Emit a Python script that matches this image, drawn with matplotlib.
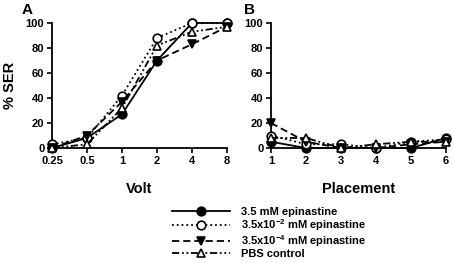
import matplotlib
matplotlib.use("Agg")
import matplotlib.pyplot as plt

plt.rcParams['font.family'] = ['Liberation Sans', 'DejaVu Sans']
plt.rcParams['font.weight'] = 'bold'
plt.rcParams['mathtext.fontset'] = 'custom'
plt.rcParams['mathtext.rm'] = 'Liberation Sans:bold'
plt.rcParams['mathtext.bf'] = 'Liberation Sans:bold'
plt.rcParams['mathtext.default'] = 'bf'

# ---- data ----
volt = [0.25, 0.5, 1, 2, 4, 8]
volt_labels = ["0.25", "0.5", "1", "2", "4", "8"]
placement = [1, 2, 3, 4, 5, 6]

series_names = ["3.5 mM epinastine",
                "3.5x10$^{-2}$ mM epinastine",
                "3.5x10$^{-4}$ mM epinastine",
                "PBS control"]

a_high = [0, 8, 27, 70, 100, 100]
a_mid = [3, 8, 42, 88, 100, 100]
a_low = [0, 10, 37, 70, 83, 97]
a_pbs = [0, 3, 32, 82, 93, 97]

b_high = [5, 0, 0, 0, 0, 8]
b_mid = [10, 3, 3, 0, 5, 7]
b_low = [20, 5, 0, 0, 3, 5]
b_pbs = [8, 8, 0, 3, 5, 5]

yticks = [0, 20, 40, 60, 80, 100]

styles = [
    dict(linestyle='-', marker='o', mfc='black', mec='black'),
    dict(linestyle=':', marker='o', mfc='white', mec='black'),
    dict(linestyle=(0, (4, 2.2)), marker='v', mfc='black', mec='black'),
    dict(linestyle=(0, (4, 1.5, 1, 1.5, 1, 1.5)), marker='^', mfc='white', mec='black'),
]

fig = plt.figure(figsize=(4.54, 2.63), dpi=100)
W, H = 454, 263
axA = fig.add_axes([52 / W, (H - 148) / H, 175 / W, 125 / H])
axB = fig.add_axes([271 / W, (H - 148) / H, 175 / W, 125 / H])

TICK_FS = 8
LABEL_FS = 10.5

def style_axes(ax):
    for s in ['top', 'right']:
        ax.spines[s].set_visible(False)
    for s in ['left', 'bottom']:
        ax.spines[s].set_linewidth(1.3)
    ax.tick_params(direction='out', length=3.5, width=1.2, labelsize=TICK_FS, pad=2)
    ax.set_ylim(0, 100)
    ax.set_yticks(yticks)
    for lab in ax.get_xticklabels() + ax.get_yticklabels():
        lab.set_fontweight('bold')

handles = []
for vals, st in zip([a_high, a_mid, a_low, a_pbs], styles):
    h, = axA.plot(volt, vals, color='black', lw=1.3, ms=6.2, mew=1.2,
                  clip_on=False, zorder=3, **st)
    handles.append(h)
axA.set_xscale('log', base=2)
axA.set_xlim(0.25, 8)
axA.set_xticks(volt)
axA.set_xticklabels(volt_labels)
axA.minorticks_off()
style_axes(axA)
axA.set_xlabel("Volt", fontsize=LABEL_FS, fontweight='bold', labelpad=12)
axA.set_ylabel("% SER", fontsize=LABEL_FS, fontweight='bold', labelpad=6)

for vals, st in zip([b_high, b_mid, b_low, b_pbs], styles):
    axB.plot(placement, vals, color='black', lw=1.3, ms=6.2, mew=1.2,
             clip_on=False, zorder=3, **st)
axB.set_xlim(1, 6)
axB.set_xticks(placement)
style_axes(axB)
axB.set_xlabel("Placement", fontsize=LABEL_FS, fontweight='bold', labelpad=12)

fig.text(27 / W, 1 - 10 / H, "A", fontsize=11, fontweight='bold', ha='center', va='center')
fig.text(250 / W, 1 - 10 / H, "B", fontsize=11, fontweight='bold', ha='center', va='center')

leg = fig.legend(handles, series_names, loc='upper left',
                 bbox_to_anchor=(172 / W, 1 - 207 / H), frameon=False,
                 handlelength=5.2, handletextpad=1.0,
                 labelspacing=0.0, borderpad=0, borderaxespad=0,
                 prop={'weight': 'bold', 'size': 8})

fig.savefig("out.png", dpi=100)
